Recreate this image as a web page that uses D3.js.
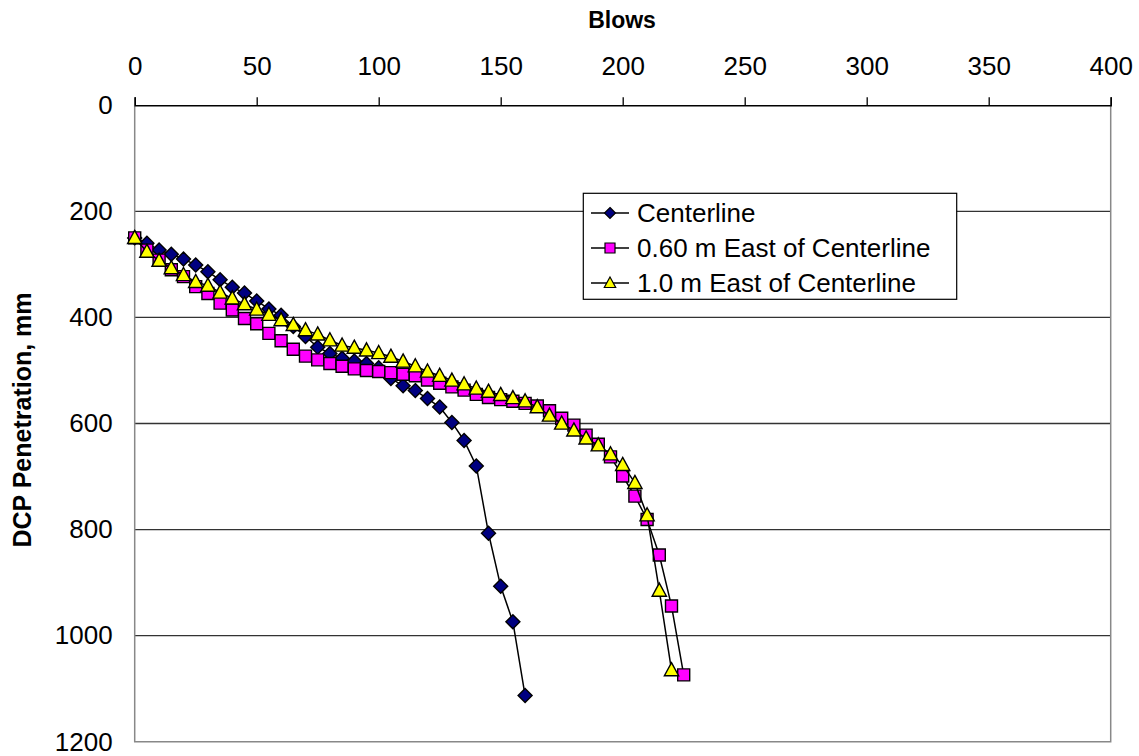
<!DOCTYPE html>
<html>
<head>
<meta charset="utf-8">
<script src="https://cdn.jsdelivr.net/npm/d3@7"></script>
<style>
  html, body { margin: 0; padding: 0; background: #fff; }
  svg { display: block; font-family: "Liberation Sans", Arial, sans-serif; }
</style>
</head>
<body>
<svg id="chart" width="1139" height="756"></svg>
<script>
// ---- Data ----
const blowsCenter = [0,5,10,15,20,25,30,35,40,45,50,55,60,65,70,75,80,85,90,95,100,105,110,115,120,125,130,135,140,145,150,155,160];
const penCenter   = [250,260,273,281,290,301,314,329,343,354,369,384,396,417,436,456,468,477,482,487,495,515,529,538,553,569,598,632,680,807,907,974,1113];

const blowsEast060 = [0,5,10,15,20,25,30,35,40,45,50,55,60,65,70,75,80,85,90,95,100,105,110,115,120,125,130,135,140,145,150,155,160,165,170,175,180,185,190,195,200,205,210,215,220,225];
const penEast060   = [250,273,292,310,323,342,355,373,386,402,412,430,444,460,473,480,487,492,497,500,502,504,507,510,518,524,531,537,545,551,555,558,562,567,576,590,603,622,639,663,699,737,781,848,944,1074];

const blowsEast10 = [0,5,10,15,20,25,30,35,40,45,50,55,60,65,70,75,80,85,90,95,100,105,110,115,120,125,130,135,140,145,150,155,160,165,170,175,180,185,190,195,200,205,210,215,220];
const penEast10   = [250,276,293,307,320,333,340,353,364,375,385,395,405,414,424,432,443,453,457,462,467,474,483,492,502,510,519,526,534,540,546,552,558,569,585,600,613,628,641,658,678,712,773,915,1065];

const xTicks = [0,50,100,150,200,250,300,350,400];
const yTicks = [0,200,400,600,800,1000,1200];
const seriesNames = ["Centerline", "0.60 m East of Centerline", "1.0 m East of Centerline"];

// ---- Layout ----
const svg = d3.select("#chart");
const L = 134.7, R = 1110.7, T = 105.3, B = 741.7;
const x = d3.scaleLinear().domain([0, 400]).range([L, R]);
const y = d3.scaleLinear().domain([0, 1200]).range([T, B]);
const FONT = 26;

// gridlines
svg.append("g").selectAll("line")
  .data(yTicks.filter(d => d > 0 && d < 1200))
  .join("line")
  .attr("x1", L).attr("x2", R)
  .attr("y1", d => y(d)).attr("y2", d => y(d))
  .attr("stroke", "#333").attr("stroke-width", 1.3);

// plot border (grey) left, right, bottom
svg.append("path")
  .attr("d", `M${L},${T} V${B} H${R} V${T}`)
  .attr("fill", "none").attr("stroke", "#888").attr("stroke-width", 1.5);

// top axis
const xAxis = d3.axisTop(x).tickValues(xTicks).tickSize(8).tickPadding(22).tickFormat(d3.format("d"));
const gx = svg.append("g").attr("transform", `translate(0,${T})`).call(xAxis);
gx.select(".domain").attr("stroke", "#000").attr("stroke-width", 1.5);
gx.selectAll(".tick line").attr("stroke", "#000").attr("stroke-width", 1.3);
gx.selectAll("text").attr("font-size", FONT).attr("fill", "#000").attr("font-family", "Liberation Sans, Arial, sans-serif");

// left axis
const yAxis = d3.axisLeft(y).tickValues(yTicks).tickSize(0).tickPadding(22).tickFormat(d3.format("d"));
const gy = svg.append("g").attr("transform", `translate(${L},0)`).call(yAxis);
gy.select(".domain").remove();
gy.selectAll("text").attr("font-size", FONT).attr("fill", "#000").attr("font-family", "Liberation Sans, Arial, sans-serif");

// titles
svg.append("text").attr("x", 622).attr("y", 28).attr("text-anchor", "middle")
  .attr("font-weight", "bold").attr("font-size", 23).text("Blows");
svg.append("text").attr("transform", `translate(31,420) rotate(-90)`).attr("text-anchor", "middle")
  .attr("font-weight", "bold").attr("font-size", 25).text("DCP Penetration, mm");

// marker shapes
const diamondPath = r => `M0,${-r}L${r},0L0,${r}L${-r},0Z`;
const squarePath = h => `M${-h},${-h}H${h}V${h}H${-h}Z`;
const trianglePath = s => `M0,${-s}L${s * 0.95},${s * 0.75}L${-s * 0.95},${s * 0.75}Z`;

const line = d3.line().x(d => x(d[0])).y(d => y(d[1]));

const series = [
  { pts: d3.zip(blowsCenter, penCenter), fill: "#000080", d: diamondPath(7), ld: diamondPath(5.5) },
  { pts: d3.zip(blowsEast060, penEast060), fill: "#FF00FF", d: squarePath(6), ld: squarePath(5) },
  { pts: d3.zip(blowsEast10, penEast10), fill: "#FFFF00", d: trianglePath(7.5), ld: trianglePath(6) }
];

series.forEach(s => {
  svg.append("path").datum(s.pts).attr("d", line)
    .attr("fill", "none").attr("stroke", "#000").attr("stroke-width", 1.5);
  svg.append("g").selectAll("path").data(s.pts).join("path")
    .attr("d", s.d)
    .attr("transform", d => `translate(${x(d[0])},${y(d[1])})`)
    .attr("fill", s.fill).attr("stroke", "#000").attr("stroke-width", 1.4);
});

// legend
const lg = svg.append("g");
lg.append("rect").attr("x", 583.3).attr("y", 193.3).attr("width", 373.4).attr("height", 106)
  .attr("fill", "#fff").attr("stroke", "#000").attr("stroke-width", 1.2);
const rowY = [213, 248, 283];
series.forEach((s, i) => {
  lg.append("line").attr("x1", 591).attr("x2", 629).attr("y1", rowY[i]).attr("y2", rowY[i])
    .attr("stroke", "#000").attr("stroke-width", 1.5);
  lg.append("path").attr("d", s.ld)
    .attr("transform", `translate(610,${rowY[i]})`)
    .attr("fill", s.fill).attr("stroke", "#000").attr("stroke-width", 1.2);
  lg.append("text").attr("x", 637).attr("y", rowY[i]).attr("dy", "0.35em")
    .attr("font-size", FONT).text(seriesNames[i]);
});
</script>
</body>
</html>
